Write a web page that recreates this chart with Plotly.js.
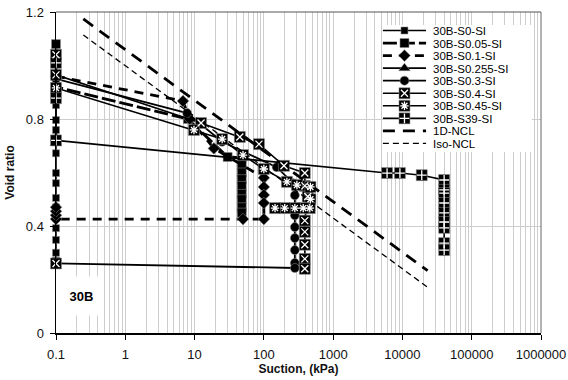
<!DOCTYPE html>
<html>
<head>
<meta charset="utf-8">
<script src="https://cdn.plot.ly/plotly-3.0.1.min.js"></script>
<style>html,body{margin:0;padding:0;background:#fff;}#chart{width:568px;height:380px;}</style>
</head>
<body>
<div id="chart"></div>
<script>
// ---------- data (suction in kPa, 0.1 stands for zero suction) ----------
const seriesNames = ['30B-S0-SI','30B-S0.05-SI','30B-S0.1-SI','30B-S0.255-SI','30B-S0.3-SI',
                     '30B-S0.4-SI','30B-S0.45-SI','30B-S39-SI','1D-NCL','Iso-NCL'];

const s0X   = [0.1,0.1,0.1,0.1,0.1,0.1,0.1,0.1,0.1,0.1,0.1,0.1,0.1,0.1];
const s0Y   = [0.852,0.796,0.759,0.672,0.598,0.56,0.505,0.47,0.45,0.43,0.392,0.348,0.30,0.27];

const s005X = [0.1,0.1,8,30,48,48,48,48,48,48,48,48,48];
const s005Y = [1.08,0.92,0.80,0.658,0.655,0.63,0.60,0.575,0.55,0.52,0.50,0.47,0.45];

const s01X  = [0.1,6.8,8.5,19,100,100,100,100,100,50,0.1,0.1,0.1,0.1];
const s01Y  = [0.96,0.867,0.80,0.69,0.58,0.546,0.516,0.486,0.426,0.426,0.426,0.44,0.455,0.47];

const s0255X = [0.1,0.1];
const s0255Y = [0.73,0.71];

const s03X  = [0.1,7.8,25,153,265,280,280,280,280,280,280,280,280,0.1];
const s03Y  = [0.95,0.822,0.715,0.62,0.56,0.515,0.46,0.44,0.396,0.355,0.31,0.262,0.243,0.26];

const s04X  = [0.1,null,0.1,0.1,12.4,45,85,195,390,390,430,390,390,390,390,390];
const s04Y  = [0.26,null,1.04,0.965,0.785,0.733,0.706,0.625,0.598,0.55,0.51,0.42,0.378,0.33,0.277,0.24];

const s045X = [0.1,9.8,25,50,100,215,300,470,470,460,370,280,200,145];
const s045Y = [0.916,0.759,0.725,0.665,0.613,0.565,0.553,0.546,0.50,0.467,0.467,0.467,0.467,0.467];

const s39X  = [0.1,0.1,0.1,6000,9200,19000,40000,40000,40000,40000,40000,40000,40000,40000,40000];
const s39Y  = [1.01,0.878,0.72,0.598,0.598,0.59,0.572,0.535,0.523,0.486,0.449,0.415,0.393,0.336,0.31];

const ncl1dX = [0.248,23100];
const ncl1dY = [1.174,0.233];
const nclIsoX = [0.248,23100];
const nclIsoY = [1.114,0.171];

const xTickVals = [0.1,1,10,100,1000,10000,100000,1000000];
const xTickText = ['0.1','1','10','100','1000','10000','100000','1000000'];
const yTickVals = [0,0.4,0.8,1.2];
const yTickText = ['0','0.4','0.8','1.2'];

// ---------- styles ----------
const FONT = 'Liberation Sans, Arial, sans-serif';
const seriesX = [s0X,s005X,s01X,s0255X,s03X,s04X,s045X,s39X,ncl1dX,nclIsoX];
const seriesY = [s0Y,s005Y,s01Y,s0255Y,s03Y,s04Y,s045Y,s39Y,ncl1dY,nclIsoY];
const styles = [
  {sym:'square',      size:7,  lw:1.6, dash:'solid'},
  {sym:'square',      size:9,  lw:2.8, dash:'14px,4px'},
  {sym:'diamond',     size:9,  lw:2.8, dash:'9px,7px'},
  {sym:'triangle-up', size:10, lw:1.6, dash:'solid'},
  {sym:'circle',      size:9,  lw:1.8, dash:'solid'},
  {sym:'square',      size:11, lw:1.6, dash:'solid', glyph:'x-thin-open',     gsize:7},
  {sym:'square',      size:11, lw:1.6, dash:'solid', glyph:'asterisk-open',   gsize:7},
  {sym:'square',      size:11, lw:1.6, dash:'solid', glyph:'cross-thin-open', gsize:7},
  {sym:null,          lw:2.8, dash:'12px,8px'},
  {sym:null,          lw:1.3, dash:'6px,4px'}
];
const markerEdge = {color:'rgba(140,140,140,0.9)', width:0.6};

const traces = [];
const glyphs = [];
seriesNames.forEach((nm,i)=>{
  const st = styles[i];
  const tr = {
    x: seriesX[i], y: seriesY[i], name: nm, type:'scatter',
    mode: st.sym ? 'lines+markers' : 'lines',
    line: {color:'#000', width: st.lw, dash: st.dash},
    cliponaxis:false, showlegend:false, hoverinfo:'skip'
  };
  if (st.sym) tr.marker = {symbol: st.sym, size: st.size, color:'#000', line: markerEdge};
  traces.push(tr);
  if (st.glyph) {
    glyphs.push({
      x: seriesX[i], y: seriesY[i], type:'scatter', mode:'markers',
      marker:{symbol: st.glyph, size: st.gsize, color:'#fff', line:{color:'#fff', width:1.3}},
      cliponaxis:false, showlegend:false, hoverinfo:'skip'
    });
  }
});

// ---------- manual compact legend (drawn on an overlay 0..1 axis pair) ----------
const leg = {x0:0.674, x1:0.763, xm:0.7185, xt:0.775, top:0.9424, step:0.0391,
             boxX:[0.674,0.981], boxY:[0.564,0.9595]};
const legTraces = [{
  x:[leg.boxX[0],leg.boxX[1],leg.boxX[1],leg.boxX[0],leg.boxX[0]],
  y:[leg.boxY[0],leg.boxY[0],leg.boxY[1],leg.boxY[1],leg.boxY[0]],
  xaxis:'x2', yaxis:'y2', type:'scatter', mode:'lines', fill:'toself',
  fillcolor:'#fff', line:{width:0, color:'rgba(0,0,0,0)'}, showlegend:false, hoverinfo:'skip'
}];
const legGlyphs = [];
const annotations = [];
seriesNames.forEach((nm,i)=>{
  const st = styles[i];
  const yy = leg.top - i*leg.step;
  legTraces.push({x:[leg.x0,leg.x1], y:[yy,yy], xaxis:'x2', yaxis:'y2', type:'scatter', mode:'lines',
    line:{color:'#000', width:st.lw, dash:st.dash}, showlegend:false, hoverinfo:'skip', cliponaxis:false});
  if (st.sym) {
    legTraces.push({x:[leg.xm], y:[yy], xaxis:'x2', yaxis:'y2', type:'scatter', mode:'markers',
      marker:{symbol:st.sym, size:st.size, color:'#000', line:markerEdge},
      showlegend:false, hoverinfo:'skip', cliponaxis:false});
  }
  if (st.glyph) {
    legGlyphs.push({x:[leg.xm], y:[yy], xaxis:'x2', yaxis:'y2', type:'scatter', mode:'markers',
      marker:{symbol:st.glyph, size:st.gsize, color:'#fff', line:{color:'#fff', width:1.3}},
      showlegend:false, hoverinfo:'skip', cliponaxis:false});
  }
  annotations.push({xref:'paper', yref:'paper', x:leg.xt, y:yy, xanchor:'left', yanchor:'middle',
    text:nm, showarrow:false, height:11, borderpad:0, valign:'middle',
    font:{family:FONT, size:11.5, color:'#000'}});
});

annotations.push({xref:'paper', yref:'paper', x:0.0536, y:0.115, xanchor:'center', yanchor:'middle',
  text:'30B', showarrow:false, bgcolor:'#fff', width:35, height:36,
  font:{family:FONT, size:13, color:'#000', weight:'bold'}});

// minor gridline positions (2..9 in each decade)
const minorVals = [];
for (let d=-1; d<6; d++) for (let m=2; m<10; m++) minorVals.push(m*Math.pow(10,d));

const layout = {
  width:568, height:380,
  margin:{l:56, r:27, t:12, b:47},
  paper_bgcolor:'#fff', plot_bgcolor:'#fff',
  font:{family:FONT, color:'#111', size:13},
  showlegend:false,
  xaxis:{
    type:'log', range:[-1,6], tickmode:'array', tickvals:xTickVals, ticktext:xTickText,
    showgrid:true, gridcolor:'#cdcdcd', gridwidth:1, zeroline:false,
    showline:true, linecolor:'#000', linewidth:1.5, ticks:'outside', ticklen:5, tickcolor:'#000',
    ticklabelstandoff:4,
    minor:{tickmode:'array', tickvals:minorVals, showgrid:true, gridcolor:'#cdcdcd', gridwidth:1, ticks:''},
    title:{text:'Suction, (kPa)', standoff:1, font:{family:FONT, size:12, color:'#111', weight:'bold'}}
  },
  yaxis:{
    range:[0,1.2], tickmode:'array', tickvals:yTickVals, ticktext:yTickText,
    showgrid:true, gridcolor:'#cdcdcd', gridwidth:1, zeroline:false,
    showline:true, linecolor:'#000', linewidth:1.5, ticks:'outside', ticklen:5, tickcolor:'#000',
    ticklabelstandoff:3,
    title:{text:'Void ratio', standoff:8, font:{family:FONT, size:12, color:'#111', weight:'bold'}}
  },
  xaxis2:{overlaying:'x', anchor:'y2', range:[0,1], visible:false, fixedrange:true},
  yaxis2:{overlaying:'y', anchor:'x2', range:[0,1], visible:false, fixedrange:true},
  shapes:[
    {type:'line', xref:'paper', yref:'paper', x0:0, x1:1, y0:1, y1:1, line:{color:'#555', width:1}},
    {type:'line', xref:'paper', yref:'paper', x0:1, x1:1, y0:0, y1:1, line:{color:'#666', width:1}}
  ],
  annotations: annotations
};

Plotly.newPlot('chart', traces.concat(glyphs, legTraces, legGlyphs), layout, {displayModeBar:false, staticPlot:true});
</script>
</body>
</html>
